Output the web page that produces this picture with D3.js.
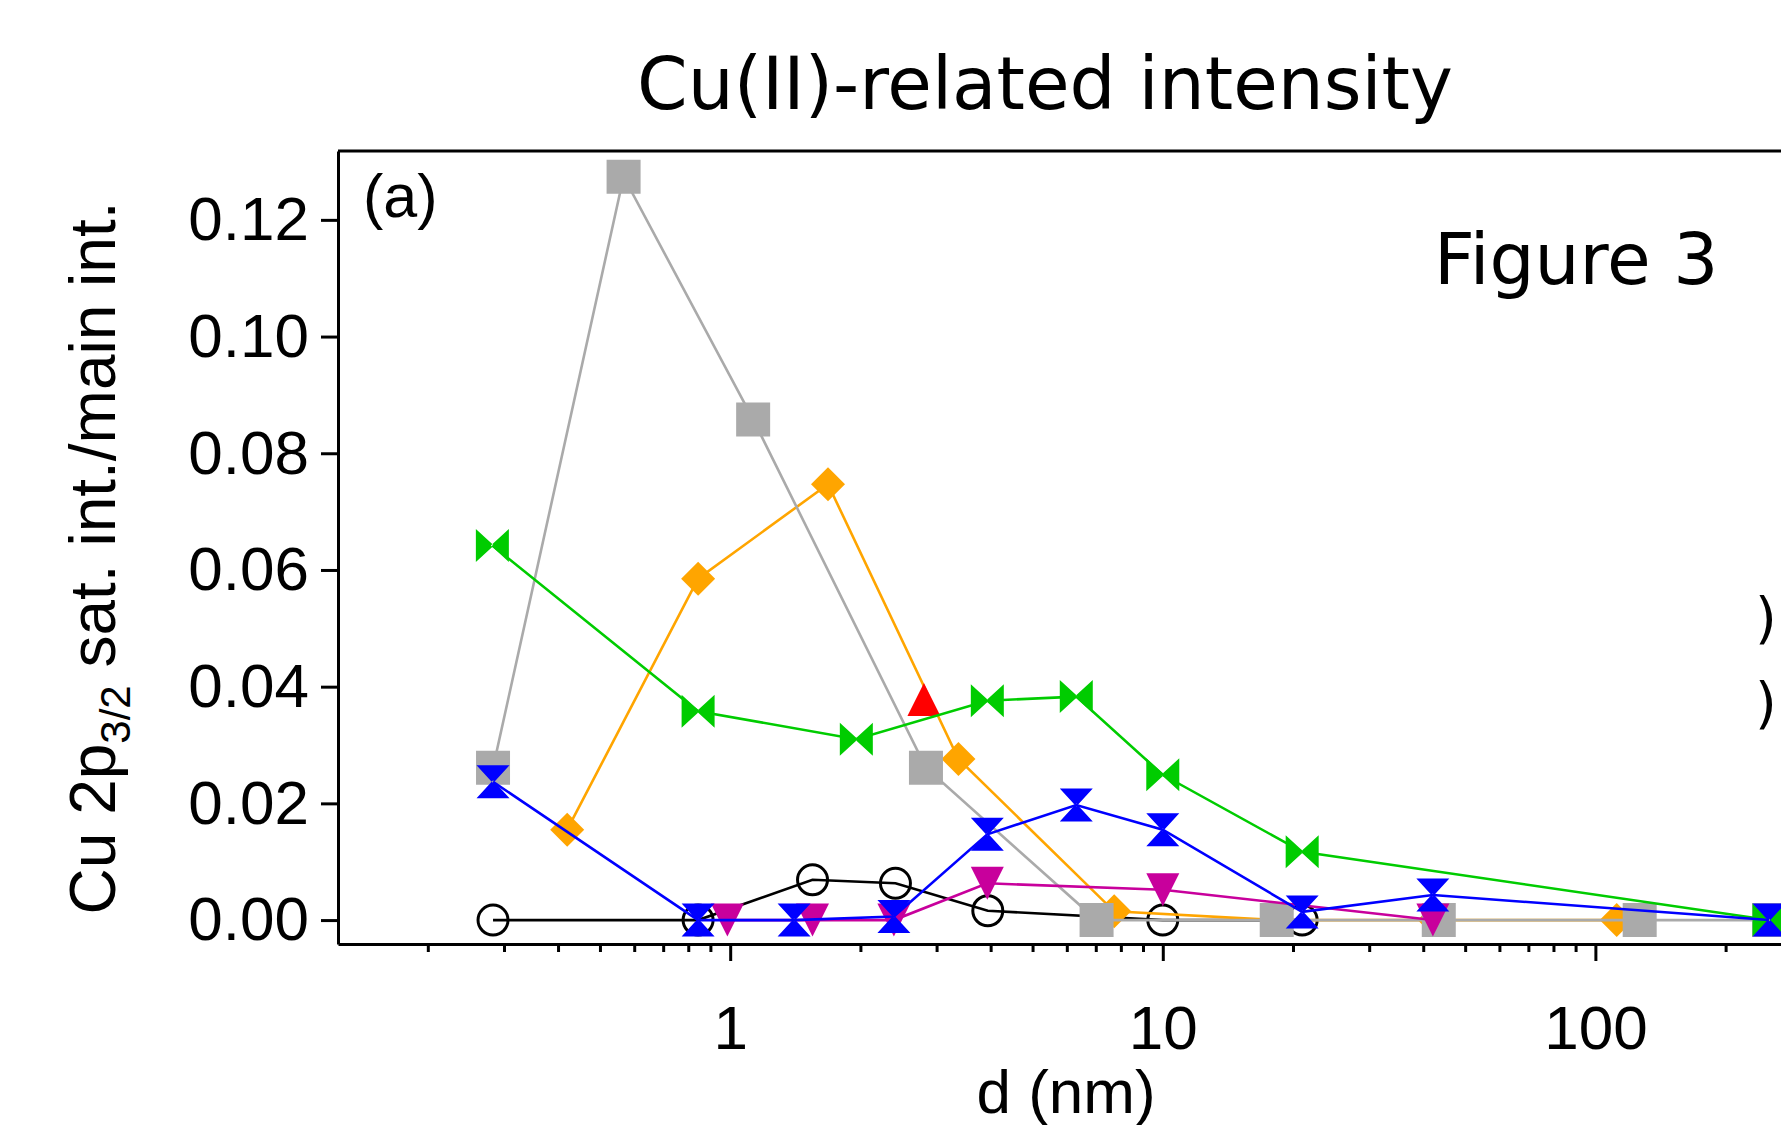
<!DOCTYPE html>
<html><head><meta charset="utf-8">
<script src="https://cdn.jsdelivr.net/npm/d3@7"></script>
<style>html,body{margin:0;padding:0;background:#fff;overflow:hidden}</style>
</head><body><svg id="c" width="1781" height="1125"></svg>
<script>
// ---- data (d in nm, ratio values) ----
const dGray    = [0.283, 0.567, 1.13, 2.835, 7.03, 18.34, 43.45, 126.6, 252];
const vGray    = [0.0261, 0.1274, 0.0858, 0.0261, 0, 0, 0, 0, 0];
const dOrange  = [0.42, 0.843, 1.683, 3.37, 7.72, 18.3, 42.5, 112];
const vOrange  = [0.0155, 0.0585, 0.0747, 0.0276, 0.0015, 0, 0, 0];
const dGreen   = [0.282, 0.843, 1.957, 3.93, 6.31, 10, 21, 252];
const vGreen   = [0.0642, 0.0358, 0.0310, 0.0376, 0.0383, 0.0249, 0.0117, 0];
const dBlue    = [0.283, 0.843, 1.405, 2.39, 3.93, 6.31, 10, 21, 42.1, 252];
const vBlue    = [0.0237, 0, 0, 0.0006, 0.0147, 0.0197, 0.0155, 0.0014, 0.0043, 0];
const dMagenta = [0.985, 1.55, 2.39, 3.93, 10, 42.1];
const vMagenta = [0, 0, 0, 0.0063, 0.0052, 0];
const dBlack   = [0.283, 0.843, 1.55, 2.41, 3.94, 10, 21];
const vBlack   = [0, 0, 0.0069, 0.0063, 0.0016, 0, 0];
const dRed     = [2.805];
const vRed     = [0.0378];

const yTicks = [0, 0.02, 0.04, 0.06, 0.08, 0.10, 0.12];
const xMajor = [1, 10, 100];
const xMinor = [0.2,0.3,0.4,0.5,0.6,0.7,0.8,0.9,2,3,4,5,6,7,8,9,20,30,40,50,60,70,80,90,200,300];
const titleText = "Cu(II)-related intensity";
const figText = "Figure 3";
const panelText = "(a)";
const xLabel = "d (nm)";

(function () {
// ---- layout ----
const svg = d3.select("#c");
const pLeft = 338, pTop = 151, pBottom = 944, decade = 432.6;
const xDom = [0.124, 300];
const x = d3.scaleLog().domain(xDom).range([pLeft, pLeft + decade * Math.log10(xDom[1] / xDom[0])]);
const y = d3.scaleLinear().domain([-0.0041, 0.1318]).range([pBottom, pTop]);
const ARIAL = "'Liberation Sans', Arial, Helvetica, sans-serif";
const VERD = "'DejaVu Sans', Verdana, sans-serif";

// frame top line
svg.append("line").attr("x1", pLeft).attr("x2", x.range()[1]).attr("y1", pTop).attr("y2", pTop)
  .attr("stroke", "#000").attr("stroke-width", 3);

// y axis
const gy = svg.append("g").attr("transform", `translate(${pLeft},0)`)
  .call(d3.axisLeft(y).tickValues(yTicks).tickFormat(d3.format(".2f")).tickSize(17).tickSizeOuter(0).tickPadding(12));
gy.select(".domain").attr("stroke-width", 3);
gy.selectAll(".tick line").attr("stroke-width", 3);
gy.selectAll(".tick text").attr("font-family", ARIAL).attr("font-size", 62).attr("fill", "#000");

// x axis minor
const gxm = svg.append("g").attr("transform", `translate(0,${pBottom})`)
  .call(d3.axisBottom(x).tickValues(xMinor).tickFormat("").tickSize(8).tickSizeOuter(0));
gxm.select(".domain").attr("stroke-width", 3);
gxm.selectAll(".tick line").attr("stroke-width", 3);
// x axis major
const gx = svg.append("g").attr("transform", `translate(0,${pBottom})`)
  .call(d3.axisBottom(x).tickValues(xMajor).tickFormat(d3.format("d")).tickSize(17).tickSizeOuter(0).tickPadding(44));
gx.select(".domain").remove();
gx.selectAll(".tick line").attr("stroke-width", 3);
gx.selectAll(".tick text").attr("font-family", ARIAL).attr("font-size", 62).attr("fill", "#000");

// ---- markers ----
const h = 16.5;
const shapes = {
  square: `M-17,-17H17V17H-17Z`,
  diamond: `M0,-17L17,0L0,17L-17,0Z`,
  bowtie: `M${-h},${-h}L1.5,0L${-h},${h}ZM${h},${-h}L-1.5,0L${h},${h}Z`,
  hourglass: `M${-h},${-h}L${h},${-h}L0,1.5ZM${-h},${h}L${h},${h}L0,-1.5Z`,
  triUp: `M0,${-h}L${h},${h}L${-h},${h}Z`,
  triDown: `M${-h},${-h}L${h},${-h}L0,${h}Z`
};

function series(ds, vs, color, shape) {
  const pts = ds.map((d, i) => ({ d, v: vs[i] }));
  const g = svg.append("g");
  if (pts.length > 1) {
    g.append("path").datum(pts)
      .attr("d", d3.line().x(p => x(p.d)).y(p => y(p.v)))
      .attr("fill", "none").attr("stroke", color).attr("stroke-width", 2.6);
  }
  if (shape === "circle") {
    g.selectAll("circle").data(pts).join("circle")
      .attr("cx", p => x(p.d)).attr("cy", p => y(p.v)).attr("r", 15)
      .attr("fill", "none").attr("stroke", color).attr("stroke-width", 3);
  } else {
    g.selectAll("path.m").data(pts).join("path").attr("class", "m")
      .attr("transform", p => `translate(${x(p.d)},${y(p.v)})`)
      .attr("d", shapes[shape]).attr("fill", color).attr("stroke", "none");
  }
}

series(dBlack, vBlack, "#000000", "circle");
series(dOrange, vOrange, "#ffa500", "diamond");
series(dGray, vGray, "#aaaaaa", "square");
series(dMagenta, vMagenta, "#c8009c", "triDown");
series(dRed, vRed, "#ff0000", "triUp");
series(dGreen, vGreen, "#00cc00", "bowtie");
series(dBlue, vBlue, "#0000ff", "hourglass");

// ---- texts ----
svg.append("text").attr("x", 1045).attr("y", 109).attr("text-anchor", "middle")
  .attr("font-family", VERD).attr("font-size", 72.5).attr("fill", "#000").text(titleText);
svg.append("text").attr("x", 1434).attr("y", 284)
  .attr("font-family", VERD).attr("font-size", 71).attr("fill", "#000").text(figText);
svg.append("text").attr("x", 363).attr("y", 217)
  .attr("font-family", ARIAL).attr("font-size", 61).attr("fill", "#000").text(panelText);
svg.append("text").attr("x", 1066).attr("y", 1113).attr("text-anchor", "middle")
  .attr("font-family", ARIAL).attr("font-size", 62).attr("fill", "#000").text(xLabel);

// y label with subscript
const yl = svg.append("text").attr("transform", "translate(115,558) rotate(-90)")
  .attr("text-anchor", "middle").attr("font-family", ARIAL).attr("font-size", 64).attr("fill", "#000");
yl.append("tspan").text("Cu 2p");
yl.append("tspan").attr("font-size", 42).attr("dy", 15).text("3/2");
yl.append("tspan").attr("dy", -15).text(" sat. int./main int.");

// clipped legend fragments at right edge
[637, 722].forEach(b => {
  svg.append("text").attr("x", 1755).attr("y", b).attr("font-family", VERD)
    .attr("font-size", 56).attr("fill", "#000").text(")");
});
})();
</script></body></html>
